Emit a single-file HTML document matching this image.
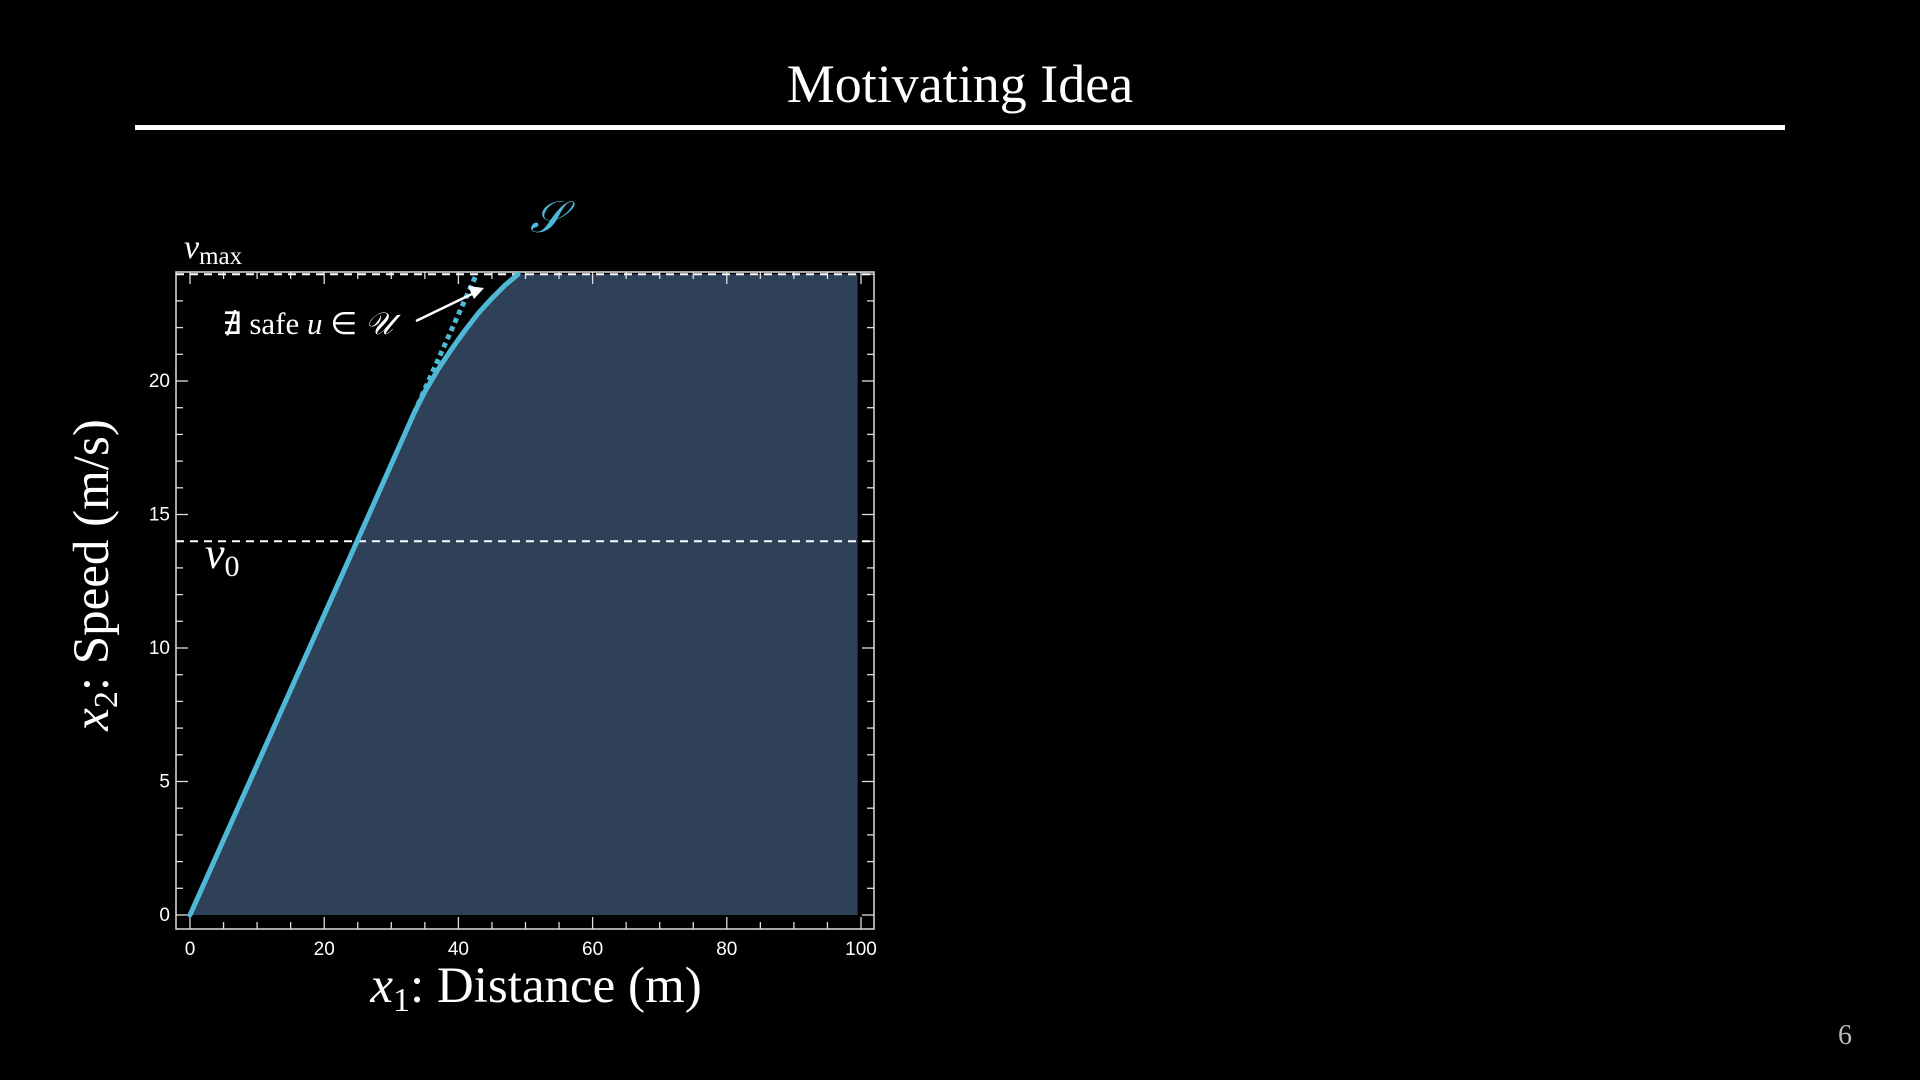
<!DOCTYPE html>
<html><head><meta charset="utf-8"><style>
html,body{margin:0;padding:0;background:#000;}
body{width:1920px;height:1080px;overflow:hidden;position:relative;}
svg{position:absolute;left:0;top:0;}
</style></head><body>
<svg id="chart" width="1920" height="1080" viewBox="0 0 1920 1080">
<text x="960" y="102" text-anchor="middle" fill="#fff" font-family="Liberation Serif, serif" font-size="54">Motivating Idea</text>
<rect x="135" y="125" width="1650" height="5" fill="#fff"/>
<text x="1845" y="1044" text-anchor="middle" fill="#bbb" font-family="Liberation Serif, serif" font-size="28">6</text>
<g id="plot"></g>
</svg>
<script>
const xTicks=[0,20,40,60,80,100];
const yTicks=[0,5,10,15,20];
const vMax=24;
const v0=14;
const xMaxFill=99.5;
// boundary curve of safe set S: distance, speed
const curveX=[0,24.9,33.4,35,37,39,41,43,45,47,48.9];
const curveV=[0,14,18.8,19.6,20.45,21.2,21.9,22.55,23.1,23.6,24];
// unsafe dotted continuation
const dotX=[33.4,42.7];
const dotV=[18.8,24];

const NS='http://www.w3.org/2000/svg';
const g=document.getElementById('plot');
const X=v=>190+v*6.71;
const Y=v=>915-v*26.7;
function mk(t,a,parent){const e=document.createElementNS(NS,t);for(const k in a)e.setAttribute(k,a[k]);(parent||g).appendChild(e);return e;}

let d='M'+X(curveX[0])+','+Y(0);
for(let i=0;i<curveX.length;i++)d+=' L'+X(curveX[i])+','+Y(curveV[i]);
d+=' L'+X(xMaxFill)+','+Y(vMax)+' L'+X(xMaxFill)+','+Y(0)+'Z';
const fill=mk('path',{d:d,fill:'#2f4158'});



const L=176,R=874,T=272,B=929;
const fr=mk('rect',{x:L,y:T,width:R-L,height:B-T,fill:'none',stroke:'#ddd','stroke-width':1.5});


for(let v=0;v<=100;v+=5){const major=v%20===0;const len=major?12:7;
 mk('line',{x1:X(v),x2:X(v),y1:B,y2:B-len,stroke:'#ddd','stroke-width':1.3});
 mk('line',{x1:X(v),x2:X(v),y1:T,y2:T+len,stroke:'#ddd','stroke-width':1.3});}
for(let v=0;v<=24;v+=1){const major=v%5===0;const len=major?12:7;
 mk('line',{x1:L,x2:L+len,y1:Y(v),y2:Y(v),stroke:'#ddd','stroke-width':1.3});
 mk('line',{x1:R,x2:R-len,y1:Y(v),y2:Y(v),stroke:'#ddd','stroke-width':1.3});}
xTicks.forEach(v=>{const t=mk('text',{x:X(v),y:955,'text-anchor':'middle',fill:'#fff','font-family':'Liberation Sans, sans-serif','font-size':19});t.textContent=v;
 
 });
yTicks.forEach(v=>{const t=mk('text',{x:170,y:Y(v)+6,'text-anchor':'end',fill:'#fff','font-family':'Liberation Sans, sans-serif','font-size':19});t.textContent=v;
 
 });

const dm=mk('line',{x1:L,x2:R,y1:Y(vMax),y2:Y(vMax),stroke:'#fff','stroke-width':2,'stroke-dasharray':'8 6'});


const d0=mk('line',{x1:L,x2:R,y1:Y(v0),y2:Y(v0),stroke:'#fff','stroke-width':2,'stroke-dasharray':'8 6'});



const dot=mk('line',{x1:X(dotX[0]),y1:Y(dotV[0]),x2:X(dotX[1]),y2:Y(dotV[1]),stroke:'#4fb8d6','stroke-width':5,'stroke-dasharray':'5 4'});


let c='';for(let i=0;i<curveX.length;i++)c+=(i?' L':'M')+X(curveX[i])+','+Y(curveV[i]);
const cur=mk('path',{d:c,fill:'none',stroke:'#4fb8d6','stroke-width':5,'stroke-linejoin':'round','stroke-linecap':'round'});



const ar=mk('line',{x1:416,y1:321,x2:474,y2:293,stroke:'#fff','stroke-width':2.5});


mk('polygon',{points:'484,288 468,286 474,299',fill:'#fff'});

function txt(x,y,s,size,name,extra){const t=mk('text',Object.assign({x:x,y:y,fill:'#fff','font-family':'Liberation Serif, serif','font-size':size},extra||{}));t.innerHTML=s;
 
 return t;}
txt(222,334,'∄ safe <tspan font-style="italic">u</tspan> ∈ <tspan font-style="italic">𝒰</tspan>',31,'annotation-text');
txt(547,232,'𝒮',44,'set-label-S',{fill:'#4fb8d6','text-anchor':'middle','font-style':'italic'});
txt(184,258,'<tspan font-style="italic">v</tspan><tspan font-size="25" dy="6">max</tspan>',34,'vmax-label');
txt(205,568,'<tspan font-style="italic">v</tspan><tspan font-size="30" dy="8">0</tspan>',44,'v0-label');
txt(536,1002,'<tspan font-style="italic">x</tspan><tspan font-size="34" dy="9">1</tspan><tspan dy="-9">: Distance (m)</tspan>',51,'x-axis-title',{'text-anchor':'middle'});
txt(0,0,'<tspan font-style="italic">x</tspan><tspan font-size="34" dy="9">2</tspan><tspan dy="-9">: Speed (m/s)</tspan>',51,'y-axis-title',{'text-anchor':'middle',transform:'translate(108,575) rotate(-90)'});
</script>
</body></html>
